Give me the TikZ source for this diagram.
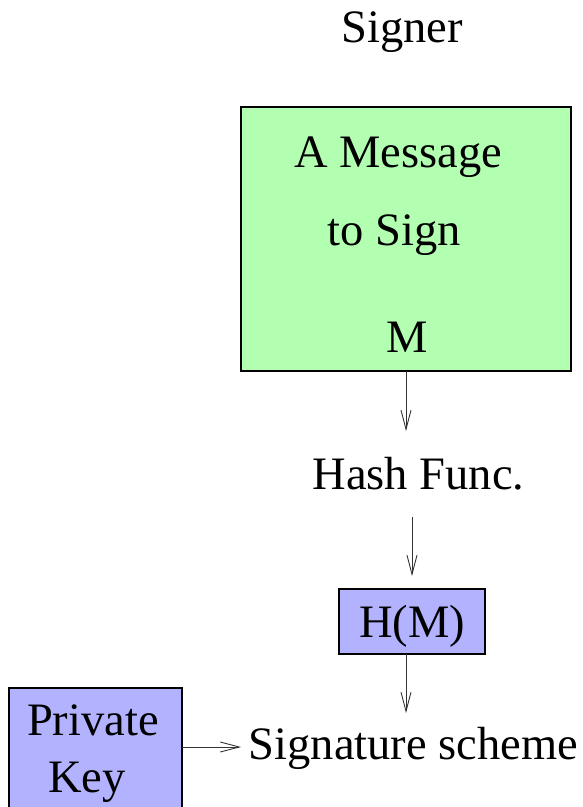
\documentclass[tikz,border=0pt]{standalone}
\usepackage{fontspec}
\setmainfont{Liberation Serif}
\usetikzlibrary{arrows.meta,calc}
\definecolor{msggreen}{RGB}{178,255,178}
\definecolor{keyblue}{RGB}{178,178,255}
\tikzset{
  lbl/.style={inner sep=0pt, anchor=base, font=\fontsize{46.5}{56}\selectfont},
  fillbox/.style={draw=black, line width=1.1pt, inner sep=0pt},
  arr/.style={draw=black!80, line width=0.9pt,
    -{Straight Barb[length=19pt, width=10pt, line width=0.9pt]}},
}
\begin{document}
\begin{tikzpicture}[x=1pt, y=-1pt]
\useasboundingbox (0,0) rectangle (583,807);

% title
\node[lbl] (signer) at (402,42) {Signer};

% message box with its texts
\path[fillbox, fill=msggreen] (241,107) rectangle (571,371);
\coordinate (msgbottom) at (406,371);
\node[lbl] (msgA) at (398,167) {A Message};
\node[lbl] (msgB) at (394,245) {to Sign};
\node[lbl] (mlabel) at (407,352) {M};

% hash function
\node[lbl] (hash) at (418.5,489) {Hash Func.};
\coordinate (hashin) at (406,431);
\coordinate (hashout) at (412,517);
\coordinate (hmin) at (412,576);

% hashed message
\path[fillbox, fill=keyblue] (339,589) rectangle (485,654);
\node[lbl] (hm) at (412,637) {H(M)};
\coordinate (hmout) at (406,654);
\coordinate (sigin) at (406,713);

% private key
\path[fillbox, fill=keyblue] (9,688) rectangle (182,812);
\node[lbl] (priv) at (93,735) {Private};
\node[lbl] (key) at (87,792) {Key};
\coordinate (keyout) at (182,747);
\coordinate (sigleft) at (241,747);

% signature scheme
\node[lbl] (sig) at (413.5,759) {Signature scheme};

% connectors
\draw[arr] (msgbottom) -- (hashin);
\draw[arr] (hashout) -- (hmin);
\draw[arr] (hmout) -- (sigin);
\draw[arr] (keyout) -- (sigleft);
\end{tikzpicture}
\end{document}
